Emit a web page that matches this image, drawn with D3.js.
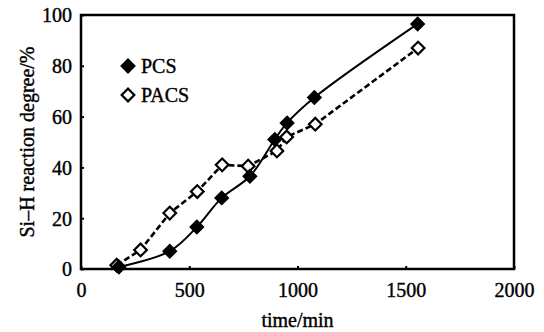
<!DOCTYPE html>
<html>
<head>
<meta charset="utf-8">
<script src="https://cdn.jsdelivr.net/npm/d3@7"></script>
<style>
  html, body { margin: 0; padding: 0; background: #fff; }
  svg text { font-family: "Liberation Serif", "DejaVu Serif", serif; fill: #000; stroke: #000; stroke-width: 0.4px; }
</style>
</head>
<body>
<div id="chart"></div>
<script>
// Si-H reaction degree vs time

// Data
const pcsTime = [175, 410, 535, 650, 780, 895, 952, 1078, 1555];
const pcsDegree = [0.8, 7, 16.5, 28, 36.5, 51, 57.5, 67.5, 96.5];
const pacsTime = [165, 275, 410, 537, 652, 772, 905, 950, 1082, 1557];
const pacsDegree = [1.5, 7.5, 22, 30.5, 41, 40.5, 46.5, 52, 57, 87];
const xTicks = [0, 500, 1000, 1500, 2000];
const yTicks = [0, 20, 40, 60, 80, 100];
const seriesNames = ["PCS", "PACS"];

const width = 544, height = 332;

const svg = d3.select("#chart")
  .append("svg")
  .attr("width", width)
  .attr("height", height);

// Scales
const x = d3.scaleLinear().domain([0, 2000]).range([81, 514]);
const y = d3.scaleLinear().domain([0, 100]).range([269, 15]);

// X axis (inward ticks, labels below)
const xAxis = svg.append("g")
  .attr("transform", `translate(0,${y(0)})`)
  .call(d3.axisBottom(x).tickValues(xTicks).tickSize(-3).tickPadding(14).tickFormat(d3.format("d")));
xAxis.select(".domain").remove();
xAxis.selectAll("line").attr("stroke", "#000").attr("stroke-width", 2);
xAxis.selectAll("text").style("font-size", "20px").attr("dy", "0.71em");

// Y axis
const yAxis = svg.append("g")
  .attr("transform", `translate(${x(0)},0)`)
  .call(d3.axisLeft(y).tickValues(yTicks).tickSize(-3).tickPadding(9));
yAxis.select(".domain").remove();
yAxis.selectAll("line").attr("stroke", "#000").attr("stroke-width", 2);
yAxis.selectAll("text").style("font-size", "20px").attr("dy", "0.34em");

// Frame
svg.append("rect")
  .attr("x", x(0))
  .attr("y", y(100))
  .attr("width", x(2000) - x(0))
  .attr("height", y(0) - y(100))
  .attr("fill", "none")
  .attr("stroke", "#000")
  .attr("stroke-width", 2.5);

// Axis titles
svg.append("text")
  .attr("x", (x(0) + x(2000)) / 2)
  .attr("y", 327)
  .attr("text-anchor", "middle")
  .style("font-size", "20px")
  .text("time/min");

svg.append("text")
  .attr("transform", `translate(34,${(y(0) + y(100)) / 2}) rotate(-90)`)
  .attr("text-anchor", "middle")
  .style("font-size", "20px")
  .text("Si\u2013H reaction degree/%");

// Lines
const pcsData = pcsTime.map((t, i) => ({ t: t, v: pcsDegree[i] }));
const pacsData = pacsTime.map((t, i) => ({ t: t, v: pacsDegree[i] }));

svg.append("path")
  .datum(pacsData)
  .attr("fill", "none")
  .attr("stroke", "#000")
  .attr("stroke-width", 2.6)
  .attr("stroke-dasharray", "6,3")
  .attr("d", d3.line().x(d => x(d.t)).y(d => y(d.v)));

svg.append("path")
  .datum(pcsData)
  .attr("fill", "none")
  .attr("stroke", "#000")
  .attr("stroke-width", 2)
  .attr("d", d3.line().curve(d3.curveCatmullRom).x(d => x(d.t)).y(d => y(d.v)));

// Markers: squares rotated 45 degrees
const diamond = d3.symbol().type(d3.symbolSquare).size(80);

svg.selectAll(".pacs")
  .data(pacsData)
  .join("path")
  .attr("class", "pacs")
  .attr("d", diamond)
  .attr("transform", d => `translate(${x(d.t)},${y(d.v)}) rotate(45)`)
  .attr("fill", "#fff")
  .attr("stroke", "#000")
  .attr("stroke-width", 2.2);

svg.selectAll(".pcs")
  .data(pcsData)
  .join("path")
  .attr("class", "pcs")
  .attr("d", diamond)
  .attr("transform", d => `translate(${x(d.t)},${y(d.v)}) rotate(45)`)
  .attr("fill", "#000")
  .attr("stroke", "#000")
  .attr("stroke-width", 2);

// Legend
const legend = svg.append("g");
seriesNames.forEach((name, i) => {
  const ly = 66 + i * 29;
  legend.append("path")
    .attr("d", d3.symbol().type(d3.symbolSquare).size(80))
    .attr("transform", `translate(128,${ly}) rotate(45)`)
    .attr("fill", i === 0 ? "#000" : "#fff")
    .attr("stroke", "#000")
    .attr("stroke-width", 2.2);
  legend.append("text")
    .attr("x", 141)
    .attr("y", ly + 7)
    .style("font-size", "20px")
    .text(name);
});
</script>
</body>
</html>
